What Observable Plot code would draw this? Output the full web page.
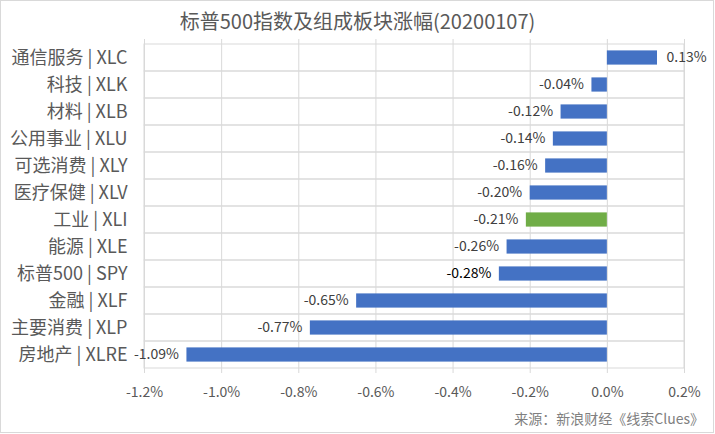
<!DOCTYPE html>
<html>
<head>
<meta charset="utf-8">
<script src="https://cdn.jsdelivr.net/npm/d3@7"></script>
<script src="https://cdn.jsdelivr.net/npm/@observablehq/plot@0.6"></script>
<style>
  html, body { margin: 0; padding: 0; background: #fff; }
  #wrap { position: relative; width: 715px; height: 434px; overflow: hidden;
          font-family: "Noto Sans CJK SC", "Noto Sans", sans-serif; }
  #border { position: absolute; left: 0; top: 0; width: 712px; height: 431px;
            border: 1px solid #d9d9d9; box-sizing: content-box; pointer-events: none; }
  #title { position: absolute; left: 0; width: 715px; top: 7px; text-align: center;
           font-size: 20px; color: #595959; line-height: 28px; }
  #caption { position: absolute; right: 11px; top: 408px; font-size: 14px;
             color: #808080; line-height: 20px; }
  #chart { position: absolute; left: 0; top: 0; }
</style>
</head>
<body>
<div id="wrap">
  <div id="chart"></div>
  <div id="title">标普500指数及组成板块涨幅(20200107)</div>
  <div id="caption">来源：新浪财经《线索Clues》</div>
  <div id="border"></div>
</div>
<script>
const categories = ["通信服务 | XLC","科技 | XLK","材料 | XLB","公用事业 | XLU","可选消费 | XLY","医疗保健 | XLV","工业 | XLI","能源 | XLE","标普500 | SPY","金融 | XLF","主要消费 | XLP","房地产 | XLRE"];
const values = [0.13, -0.04, -0.12, -0.14, -0.16, -0.20, -0.21, -0.26, -0.28, -0.65, -0.77, -1.09];
const highlight = ["工业 | XLI"];
const boldLabel = ["标普500 | SPY"];
const xTicks = [-1.2, -1.0, -0.8, -0.6, -0.4, -0.2, 0.0, 0.2];

const data = categories.map((c, i) => ({name: c, value: values[i]}));
const fmt = v => v.toFixed(2) + "%";

const chart = Plot.plot({
  width: 715,
  height: 434,
  marginLeft: 144,
  marginRight: 31,
  marginTop: 39,
  marginBottom: 61,
  style: {fontFamily: "'Noto Sans CJK SC', 'Noto Sans', sans-serif", background: "transparent"},
  x: {domain: [-1.2, 0.2], ticks: xTicks, tickFormat: d => d.toFixed(1) + "%"},
  y: {domain: categories, padding: 0},
  marks: [
    Plot.ruleX(xTicks, {x: d => d, stroke: "#d9d9d9", strokeWidth: 1}),
    Plot.barX(categories, {y: d => d, x1: -1.2, x2: 0.2, fill: "none", stroke: "#d9d9d9", strokeWidth: 1}),
    Plot.barX(data, {
      y: "name", x: "value",
      fill: d => highlight.includes(d.name) ? "#70ad47" : "#4472c4",
      insetTop: 6.4, insetBottom: 6.4
    }),
    Plot.text(data.filter(d => d.value < 0), {
      y: "name", x: "value", text: d => fmt(d.value),
      textAnchor: "end", dx: -8, fontSize: 14,
      fill: d => boldLabel.includes(d.name) ? "#000000" : "#404040"
    }),
    Plot.text(data.filter(d => d.value >= 0), {
      y: "name", x: "value", text: d => fmt(d.value),
      textAnchor: "start", dx: 9, fontSize: 14, fill: "#404040"
    }),
    Plot.axisX({ticks: xTicks, tickFormat: d => d.toFixed(1) + "%", tickSize: 0, tickPadding: 14,
      fontSize: 14, color: "#595959", label: null}),
    Plot.axisY({tickSize: 0, tickPadding: 17, fontSize: 18, color: "#595959", label: null})
  ]
});
document.getElementById("chart").appendChild(chart);
</script>
</body>
</html>
